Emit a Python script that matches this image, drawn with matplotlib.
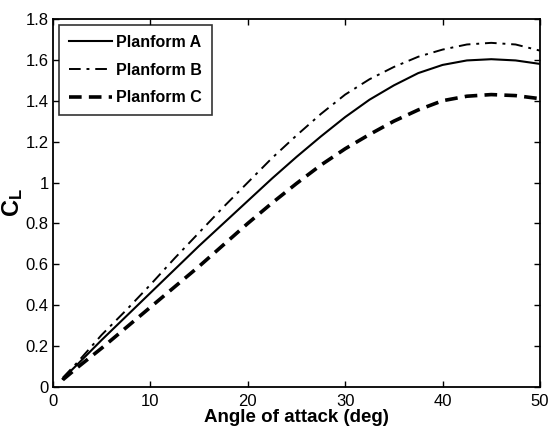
import matplotlib
matplotlib.use("Agg")
import matplotlib.pyplot as plt

# ---- data ----
alpha = [1, 2.5, 5, 7.5, 10, 12.5, 15, 17.5, 20, 22.5, 25, 27.5, 30,
         32.5, 35, 37.5, 40, 42.5, 45, 47.5, 50]
cl_A = [0.04, 0.11, 0.23, 0.345, 0.46, 0.575, 0.69, 0.80, 0.91, 1.02, 1.125,
        1.225, 1.32, 1.405, 1.475, 1.535, 1.575, 1.597, 1.603, 1.597, 1.58]
cl_B = [0.045, 0.12, 0.255, 0.375, 0.50, 0.63, 0.755, 0.88, 1.00, 1.12, 1.23,
        1.335, 1.43, 1.505, 1.565, 1.615, 1.65, 1.675, 1.683, 1.675, 1.645]
cl_C = [0.035, 0.095, 0.19, 0.29, 0.39, 0.49, 0.59, 0.695, 0.80, 0.90, 0.995,
        1.085, 1.165, 1.235, 1.30, 1.355, 1.40, 1.422, 1.43, 1.425, 1.41]
labels = ["Planform A", "Planform B", "Planform C"]
xticks = [0, 10, 20, 30, 40, 50]
yticks = [0, 0.2, 0.4, 0.6, 0.8, 1, 1.2, 1.4, 1.6, 1.8]
yticklabels = ["0", "0.2", "0.4", "0.6", "0.8", "1", "1.2", "1.4", "1.6", "1.8"]

fam = "Liberation Sans"
plt.rcParams["font.family"] = [fam, "DejaVu Sans"]
plt.rcParams["mathtext.fontset"] = "custom"
plt.rcParams["mathtext.rm"] = fam
plt.rcParams["mathtext.bf"] = fam + ":bold"

fig = plt.figure(figsize=(5.49, 4.30), dpi=100)
ax = fig.add_axes([0.0965, 0.10, 0.887, 0.856])

ax.plot(alpha, cl_A, color="black", lw=1.5, ls="-", label=labels[0])
ax.plot(alpha, cl_B, color="black", lw=1.4, ls=(0, (6, 3, 1.5, 3)), label=labels[1])
ax.plot(alpha, cl_C, color="black", lw=2.6, ls=(0, (3.5, 2)), label=labels[2])

ax.set_xlim(0, 50)
ax.set_ylim(0, 1.8)
ax.set_xticks(xticks)
ax.set_yticks(yticks)
ax.set_xticklabels([str(t) for t in xticks])
ax.set_yticklabels(yticklabels)
ax.tick_params(direction="in", top=True, right=True, length=4, width=1,
               labelsize=12)
ax.tick_params(axis="x", pad=5)
ax.tick_params(axis="y", pad=3)
for s in ax.spines.values():
    s.set_linewidth(1.3)

ax.set_xlabel("Angle of attack (deg)", fontsize=13.5, fontweight="bold")
ax.xaxis.set_label_coords(0.5, -0.06)
ax.set_ylabel(r"$\mathbf{C_L}$", fontsize=17)
ax.yaxis.set_label_coords(-0.058, 0.5)

leg = ax.legend(loc="upper left", fontsize=11.5, frameon=True, fancybox=False,
                edgecolor="black", handlelength=2.7, borderpad=0.6,
                labelspacing=0.8, handletextpad=0.25, borderaxespad=0.4)
leg.get_frame().set_linewidth(1.2)
for t in leg.get_texts():
    t.set_fontweight("bold")

fig.savefig("out.png", dpi=100)
